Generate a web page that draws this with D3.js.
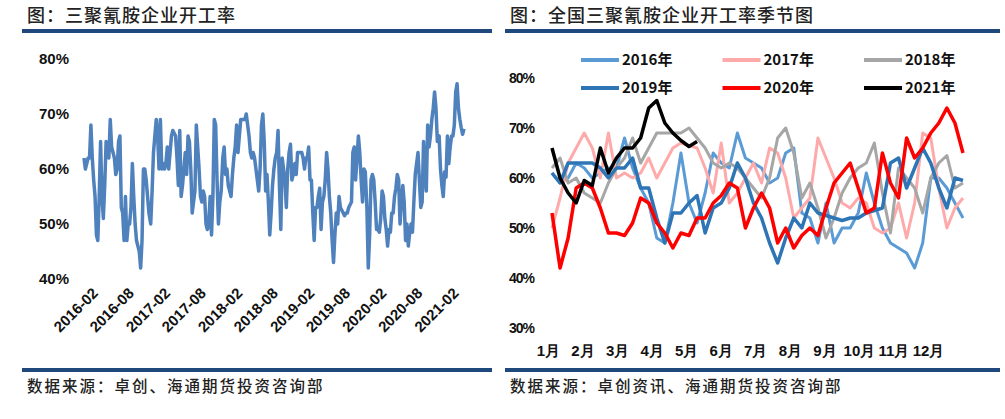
<!DOCTYPE html>
<html><head><meta charset="utf-8">
<script src="https://cdn.jsdelivr.net/npm/d3@7"></script>
<style>body{margin:0;background:#fff;font-family:"Noto Sans CJK SC","Liberation Sans",sans-serif}</style>
</head><body>
<script>
var w = 1005, h = 419;

// weekly operating rates by year (%)
var y2016 = [61,59,60,63,62,60,61,62,62,68,62,58,55,48,47,55,65,55,51,57,65,63,62,69,64,63,62,59,60,65,66,53,52,47,55,47,50,50,53,61,55,50,47,46,45,42,47,60,60,58,55,52];
var y2017 = [50,56,63,66,69,66,60,69,60,61,60,61,64,60,63,66,67,66.5,66,62,57,67,55,57,60,63,59,66,65,60,52,54,56,68,64,60,55,54,56,55,50,49,50,55,48,55,69,68,58,50,54,56];
var y2018 = [62,64,59,60,57,56,55,59,62,64,68,63,66,69,69,69,69,70,68,66,63,62,63,62,60,58,56,60,68,70,65,56,59,54,48,52,57,60,62,63,67,57,49,62,60,58,53,60,63,64.5,58,59];
var y2019 = [61,59,63,63,63,63,62,60,62,62,64,58,58,52,47,53,53,55,56.5,49,54,55,58,63,60,55,52,47,43,48,52,50,55,53,52.5,52,51.5,52,52,53,53.5,54,63,64,58,62,66,63,58,54,60,59.5];
var y2020 = [53,42,48,58,59,58,54,49,49,48.5,51,56,55,51,49,46,49,48.5,52,52,55,56.5,59,58,50,54,57,54,47,50,46,48.5,50,48.5,54,59,61,63,58,53,54,65,59,56,68,64,66,69,71,74,71,65];
var y2021 = [66,60,57,55,59.5,58.5,66,61,64,66,66,68,74,75.5,71,69,67.5,66.3,67.3];

var years = ["2016年","2017年","2018年","2019年","2020年","2021年"];
var colors = ["#5b9bd5","#ffaaaa","#a6a6a6","#2e75b6","#ff0000","#000000"];
var seasonal = [y2016,y2017,y2018,y2019,y2020,y2021];
var months = ["1月","2月","3月","4月","5月","6月","7月","8月","9月","10月","11月","12月"];
var leftTicks = ["2016-02","2016-08","2017-02","2017-08","2018-02","2018-08","2019-02","2019-08","2020-02","2020-08","2021-02"];

var svg = d3.select("body").append("svg").attr("width", w).attr("height", h);

var navy = "#1f497d";
function frame(x0, x1, title, source) {
    svg.append("text").attr("x", x0 + 5).attr("y", 22).text(title)
        .attr("font-size", 18).attr("font-weight", 500).attr("fill", "#222").attr("letter-spacing", 1);
    svg.append("rect").attr("x", x0).attr("y", 29).attr("width", x1 - x0).attr("height", 4).attr("fill", navy);
    svg.append("rect").attr("x", x0).attr("y", 368).attr("width", x1 - x0).attr("height", 4).attr("fill", navy);
    svg.append("text").attr("x", x0 + 5).attr("y", 392).text(source)
        .attr("font-size", 15.5).attr("font-weight", 500).attr("fill", "#222").attr("letter-spacing", 2);
}
frame(22, 492, "图：三聚氰胺企业开工率", "数据来源：卓创、海通期货投资咨询部");
frame(505, 1000, "图：全国三聚氰胺企业开工率季节图", "数据来源：卓创资讯、海通期货投资咨询部");

// ---- left: full history
var all = [];
seasonal.forEach(function(arr, k) {
    arr.forEach(function(v, i) {
        all.push({date: d3.timeDay.offset(new Date(2016 + k, 0, 4), i * 7), v: v});
    });
});
all = all.filter(function(d) { return d.date >= new Date(2016, 1, 1); });

var xl = d3.scaleTime().domain([new Date(2016, 1, 1), all[all.length - 1].date]).range([84, 464]);
var yl = d3.scaleLinear().domain([40, 80]).range([279, 59]);

var gl = svg.append("g");
gl.append("g").attr("transform", "translate(72,0)")
    .call(d3.axisLeft(yl).tickValues([40,50,60,70,80]).tickFormat(function(d) { return d + "%"; }).tickSize(0))
    .call(function(g) { g.select(".domain").remove(); })
    .selectAll("text").attr("font-size", 15).attr("font-weight", "bold").attr("fill", "#111")
    .attr("font-family", "Liberation Sans");

var ticksDates = leftTicks.map(function(s) { var p = s.split("-"); return new Date(+p[0], +p[1] - 1, 1); });
gl.append("g").attr("transform", "translate(6,292)")
    .call(d3.axisBottom(xl).tickValues(ticksDates).tickFormat(function(d, i) { return leftTicks[i]; }).tickSize(0))
    .call(function(g) { g.select(".domain").remove(); })
    .selectAll("text").attr("font-size", 15).attr("font-weight", "bold").attr("fill", "#111")
    .attr("font-family", "Liberation Sans")
    .attr("text-anchor", "end").attr("dy", "0.3em").attr("dx", "0.3em").attr("transform", "rotate(-45)");

gl.append("path").datum(all).attr("fill", "none").attr("stroke", "#4f81bd").attr("stroke-width", 3.5)
    .attr("stroke-linejoin", "round")
    .attr("d", d3.line().x(function(d) { return xl(d.date); }).y(function(d) { return yl(d.v); }));

// ---- right: seasonal
var xr = d3.scaleLinear().domain([0, 51]).range([552, 963]);
var yr = d3.scaleLinear().domain([30, 80]).range([328, 78]);
var xm = d3.scalePoint().domain(months).range([548, 928]);

var gr = svg.append("g");
gr.append("g").attr("transform", "translate(537,0)")
    .call(d3.axisLeft(yr).tickValues([30,40,50,60,70,80]).tickFormat(function(d) { return d + "%"; }).tickSize(0))
    .call(function(g) { g.select(".domain").remove(); })
    .selectAll("text").attr("font-size", 14).attr("font-weight", "bold").attr("fill", "#111")
    .attr("font-family", "Liberation Sans").attr("letter-spacing", -1);
gr.append("g").attr("transform", "translate(0,342)")
    .call(d3.axisBottom(xm).tickSize(0))
    .call(function(g) { g.select(".domain").remove(); })
    .selectAll("text").attr("font-size", 15).attr("font-weight", "bold").attr("fill", "#111");

var line = d3.line().x(function(d, i) { return xr(i); }).y(function(d) { return yr(d); });
seasonal.forEach(function(arr, k) {
    gr.append("path").datum(arr).attr("fill", "none").attr("stroke", colors[k])
        .attr("stroke-width", k >= 3 ? 3.5 : 3).attr("stroke-linejoin", "round").attr("d", line);
});

var lg = gr.selectAll(".lg").data(years).enter().append("g")
    .attr("transform", function(d, i) { return "translate(" + (581 + (i % 3) * 141.5) + "," + (60 + Math.floor(i / 3) * 28) + ")"; });
lg.append("line").attr("x1", 0).attr("x2", 38).attr("stroke", function(d, i) { return colors[i]; }).attr("stroke-width", 4);
lg.append("text").attr("x", 41).attr("dy", "0.35em").text(function(d) { return d; })
    .attr("font-size", 15).attr("font-weight", "bold").attr("fill", "#111");
</script>
</body></html>
